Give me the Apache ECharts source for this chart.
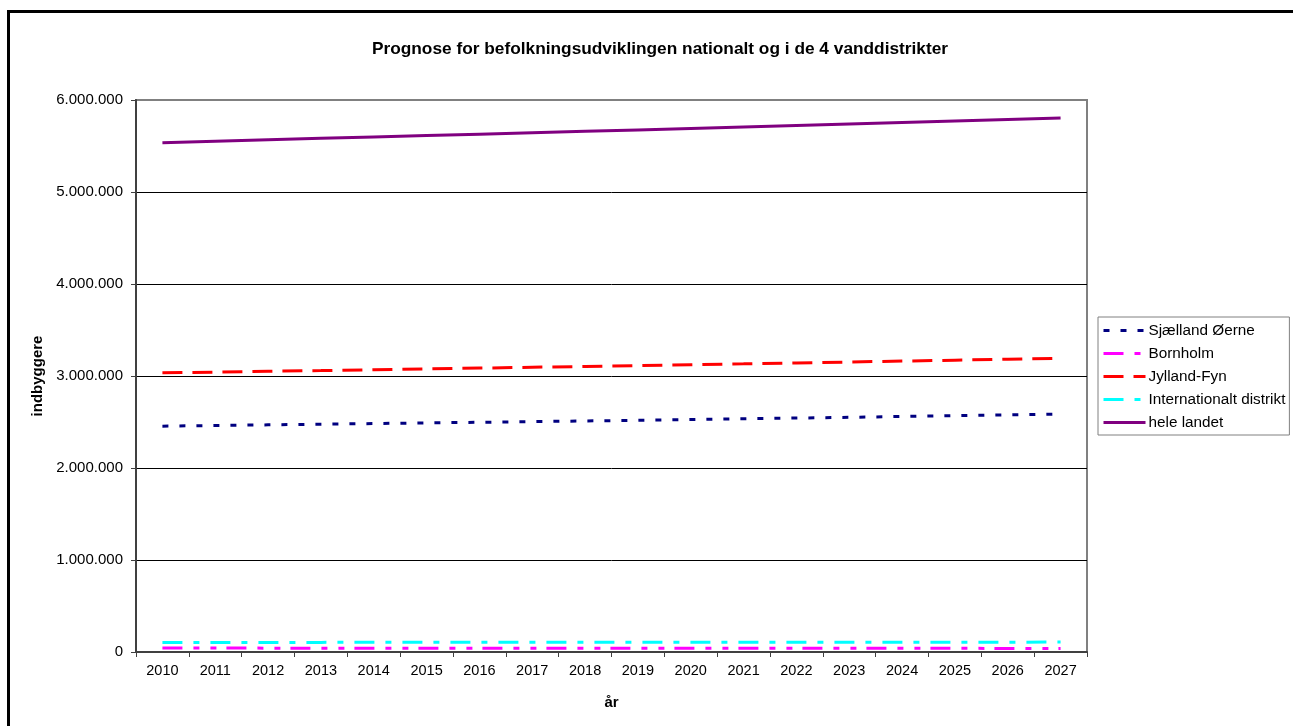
<!DOCTYPE html>
<html>
<head>
<meta charset="utf-8">
<script src="https://cdn.jsdelivr.net/npm/echarts@6/dist/echarts.min.js"></script>
<style>
  html, body { margin: 0; padding: 0; background: #fff; }
  #chart { width: 1293px; height: 726px; }
</style>
</head>
<body>
<div id="chart"></div>
<script>
// år
const years = ['2010', '2011', '2012', '2013', '2014', '2015', '2016', '2017', '2018',
  '2019', '2020', '2021', '2022', '2023', '2024', '2025', '2026', '2027'];

// indbyggere pr. år
const sjaelland = [2455000, 2462000, 2469000, 2476000, 2483000, 2490000, 2497000, 2504000, 2511000,
  2519000, 2527000, 2535000, 2543000, 2551000, 2560000, 2569000, 2578000, 2587000];
const bornholm = [42500, 42300, 42100, 41900, 41700, 41500, 41300, 41100, 40900,
  40700, 40500, 40300, 40100, 39900, 39700, 39500, 39300, 39100];
const jyllandFyn = [3034000, 3042000, 3051000, 3059000, 3068000, 3077000, 3086000, 3095000, 3104000,
  3113000, 3123000, 3132000, 3142000, 3152000, 3162000, 3172000, 3183000, 3193000];
const international = [104000, 104200, 104400, 104600, 104800, 105000, 105200, 105400, 105600,
  105800, 106000, 106200, 106400, 106600, 106800, 107000, 107200, 107400];
const heleLandet = [5534000, 5551000, 5567000, 5583000, 5598000, 5613000, 5628000, 5643000, 5659000,
  5675000, 5691000, 5707000, 5723000, 5739000, 5755000, 5771000, 5787000, 5803000];

const yTicks = ['0', '1.000.000', '2.000.000', '3.000.000', '4.000.000', '5.000.000', '6.000.000'];

const font = 'Liberation Sans, Arial, sans-serif';

function lineSeries(name, data, color, dash) {
  return {
    name: name,
    type: 'line',
    data: data,
    symbol: 'none',
    showSymbol: false,
    animation: false,
    lineStyle: { color: color, width: 3, type: dash, cap: 'butt' },
    itemStyle: { color: color }
  };
}

const chart = echarts.init(document.getElementById('chart'));

chart.setOption({
  backgroundColor: '#fff',
  animation: false,
  title: {
    text: 'Prognose for befolkningsudviklingen nationalt og i de 4 vanddistrikter',
    left: 655,
    textAlign: 'center',
    top: 36,
    textStyle: { fontFamily: font, fontSize: 17.3, fontWeight: 'bold', color: '#000' }
  },
  grid: {
    left: 136,
    right: 206,
    top: 100,
    bottom: 74,
    containLabel: false,
    outerBoundsMode: 'none',
    show: true,
    borderColor: '#808080',
    borderWidth: 2,
    backgroundColor: '#fff'
  },
  legend: {
    orient: 'vertical',
    left: 1098,
    top: 317,
    padding: [5, 4, 4, 4],
    itemGap: 6,
    itemWidth: 42,
    itemHeight: 16,
    borderColor: '#808080',
    borderWidth: 1,
    itemStyle: { color: 'rgba(0,0,0,0)', borderWidth: 0, opacity: 0 },
    lineStyle: { width: 3 },
    textStyle: { fontFamily: font, fontSize: 15.3, color: '#000', padding: [0, 0, 0, -2], lineHeight: 17 },
    data: ['Sjælland Øerne', 'Bornholm', 'Jylland-Fyn', 'Internationalt distrikt', 'hele landet']
  },
  xAxis: {
    type: 'category',
    data: years,
    boundaryGap: true,
    name: 'år',
    nameLocation: 'middle',
    nameGap: 43,
    nameTextStyle: { fontFamily: font, fontSize: 15, fontWeight: 'bold', color: '#000' },
    axisLine: { show: true, onZero: false, lineStyle: { color: '#404040', width: 2 } },
    axisTick: { show: true, interval: 0, alignWithLabel: false, length: 5, lineStyle: { color: '#404040' } },
    axisLabel: { interval: 0, margin: 11, fontFamily: font, fontSize: 14.5, color: '#000' },
    splitLine: { show: false }
  },
  yAxis: {
    type: 'value',
    min: 0,
    max: 6000000,
    interval: 1000000,
    name: 'indbyggere',
    nameLocation: 'middle',
    nameGap: 87,
    nameTextStyle: { fontFamily: font, fontSize: 15, fontWeight: 'bold', color: '#000' },
    axisLine: { show: true, lineStyle: { color: '#404040', width: 2 } },
    axisTick: { show: true, length: 5, lineStyle: { color: '#404040' } },
    axisLabel: {
      margin: 13,
      fontFamily: font,
      fontSize: 15,
      color: '#000',
      formatter: function (v) { return yTicks[Math.round(v / 1000000)]; }
    },
    splitLine: {
      show: true,
      lineStyle: { color: ['#000', '#000', '#000', '#000', '#000', '#000', '#808080'], width: 1 }
    }
  },
  graphic: [{
    type: 'rect',
    silent: true,
    z: 100,
    shape: { x: 8.5, y: 11.5, width: 1400, height: 900 },
    style: { fill: null, stroke: '#000', lineWidth: 3 }
  }],
  series: [
    lineSeries('Sjælland Øerne', sjaelland, '#000080', [6, 11]),
    lineSeries('Bornholm', bornholm, '#FF00FF', [20, 11, 6, 11, 6, 10]),
    lineSeries('Jylland-Fyn', jyllandFyn, '#FF0000', [20, 10]),
    lineSeries('Internationalt distrikt', international, '#00FFFF', [20, 11, 6, 11]),
    lineSeries('hele landet', heleLandet, '#800080', 'solid')
  ]
});
</script>
</body>
</html>
